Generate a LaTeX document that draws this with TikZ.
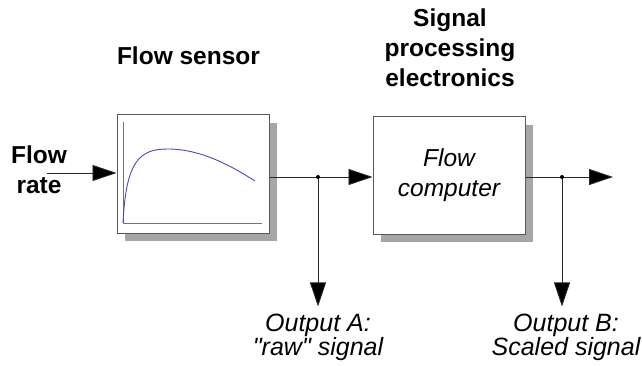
\documentclass[tikz,border=0pt]{standalone}
\usepackage{fontspec}
\setmainfont{Liberation Sans}[Ligatures=TeXOff]
\usetikzlibrary{arrows.meta,positioning,shadows}
\definecolor{curvecolor}{RGB}{80,70,190}

\begin{document}
\begin{tikzpicture}[x=1pt, y=-1pt,
    blockbox/.style={draw=black!65, line width=1pt, fill=white, minimum width=152pt,
                     minimum height=118pt, align=center,
                     drop shadow={shadow xshift=8pt, shadow yshift=-8pt, fill=black!35, opacity=1}},
    titletext/.style={font=\bfseries\fontsize{24.5}{30}\selectfont, align=center, inner sep=0pt},
    outtext/.style={font=\itshape\fontsize{25}{24}\selectfont, align=center, inner sep=0pt},
    flow/.style={draw=black!85, line width=0.9pt, -{Triangle[length=24pt, width=16pt, fill=black]}},
    junction/.style={circle, fill=black, inner sep=0pt, minimum size=4pt}]
  \useasboundingbox (0,0) rectangle (642,366);

  \node[titletext, anchor=base] (sensortitle) at (188.5,65) {Flow sensor};
  \node[titletext] (proctitle) at (450,48) {Signal\\processing\\electronics};
  \node[titletext] (rate) at (39,170) {Flow\\rate};

  \node[blockbox] (sensor) at (193,174) {};
  \node[blockbox, minimum height=117pt, font=\itshape\fontsize{24.5}{30}\selectfont]
       (computer) at (449,175.5) {Flow\\computer};

  % graph inside the sensor
  \draw[black!55, line width=0.8pt] (123,122) -- (123,223) -- (262,223);
  \draw[curvecolor, line width=0.9pt] (123,223) .. controls (126,160) and (140,149) .. (168,149)
        .. controls (200,149) and (230,165) .. (255,181);

  \coordinate (inA) at (47,173);
  \coordinate (dotA) at (318,177);
  \coordinate (dotB) at (562,177);
  \coordinate (outR) at (613,177);

  \node[outtext] (outA) at (318,337) {Output A:\\"raw" signal};
  \node[outtext] (outB) at (566,337) {Output B:\\Scaled signal};

  \draw[flow] (inA) -- (inA -| sensor.west);
  \draw[flow] (sensor.east |- dotA) -- (dotA -| computer.west);
  \draw[flow] (computer.east |- dotB) -- (outR);
  \draw[flow, shorten >=7pt] (dotA) -- (dotA |- outA.north);
  \draw[flow, shorten >=7pt] (dotB) -- (dotB |- outB.north);
  \node[junction] at (dotA) {};
  \node[junction] at (dotB) {};
\end{tikzpicture}
\end{document}
